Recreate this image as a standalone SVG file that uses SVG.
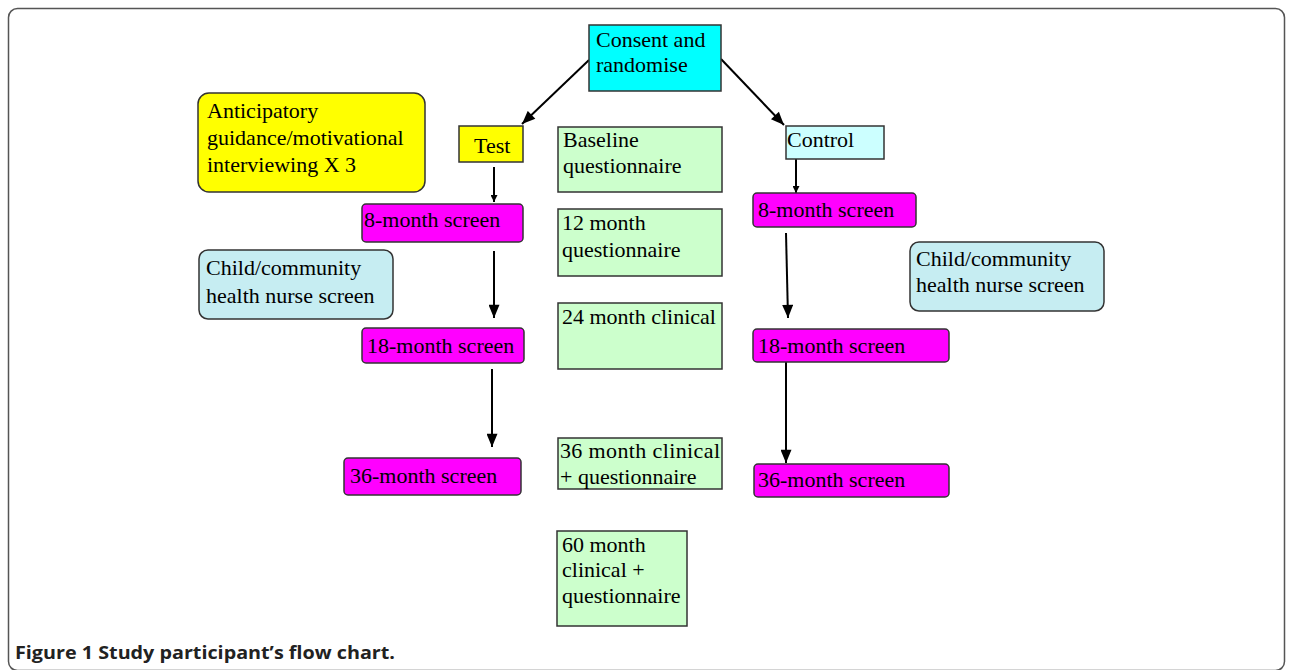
<svg xmlns="http://www.w3.org/2000/svg" width="1290" height="670" viewBox="0 0 1290 670">
<style>
.t{font-family:"Liberation Serif","Times New Roman",serif;font-size:22px;fill:#000}
.b{stroke:#333;stroke-width:1.5}
.cy{fill:#00FFFF}
.ye{fill:#FFFF00}
.lc{fill:#CCFFFF}
.mg{fill:#FF00FF}
.gr{fill:#CCFFCC}
.lb{fill:#C6EDF2}
.c{stroke:#000;stroke-width:2;fill:none}
.cap{font-family:"Open Sans","Liberation Sans",sans-serif;font-weight:bold;font-size:18px;fill:#222}
</style>
<defs>
<marker id="ah2" viewBox="0 0 12 10" refX="12" refY="5" markerWidth="14" markerHeight="11" markerUnits="userSpaceOnUse" orient="auto"><path d="M0,0 L12,5 L0,10 z" fill="#000"/></marker>
<marker id="ah3" viewBox="0 0 10 10" refX="10" refY="5" markerWidth="8" markerHeight="7" markerUnits="userSpaceOnUse" orient="auto"><path d="M0,0 L10,5 L0,10 z" fill="#000"/></marker>
</defs>
<rect width="1290" height="670" fill="#fff"/>
<rect x="8.5" y="8.5" width="1276" height="662" rx="9" fill="none" stroke="#555" stroke-width="1.5"/>
<g id="connectors">
<line class="c" x1="589" y1="60" x2="522" y2="124" marker-end="url(#ah2)"/>
<line class="c" x1="721" y1="59" x2="784" y2="125" marker-end="url(#ah2)"/>
<line class="c" x1="494" y1="167" x2="494" y2="202" marker-end="url(#ah3)"/>
<line class="c" x1="494" y1="251" x2="494" y2="318" marker-end="url(#ah2)"/>
<line class="c" x1="492" y1="369" x2="492" y2="447" marker-end="url(#ah2)"/>
<line class="c" x1="796" y1="159" x2="796" y2="193" marker-end="url(#ah3)"/>
<line class="c" x1="786" y1="233" x2="788" y2="318" marker-end="url(#ah2)"/>
<line class="c" x1="786" y1="362" x2="786" y2="463" marker-end="url(#ah2)"/>
</g>
<g id="consent"><rect class="b cy" x="589" y="25" width="132" height="66"/><text class="t" x="596" y="47">Consent and</text><text class="t" x="596" y="72">randomise</text></g>
<g id="anticipatory"><rect class="b ye" x="198" y="93" width="227" height="99" rx="11"/><text class="t" x="207" y="118">Anticipatory</text><text class="t" x="207" y="145">guidance/motivational</text><text class="t" x="207" y="172">interviewing X 3</text></g>
<g id="test"><rect class="b ye" x="459" y="126" width="64" height="36"/><text class="t" x="474" y="153">Test</text></g>
<g id="control"><rect class="b lc" x="786" y="126" width="98" height="33"/><text class="t" x="787" y="147">Control</text></g>
<g id="test8"><rect class="b mg" x="362" y="204" width="161" height="38" rx="4"/><text class="t" x="364" y="227">8-month screen</text></g>
<g id="test18"><rect class="b mg" x="362" y="328" width="162" height="35" rx="4"/><text class="t" x="367" y="353">18-month screen</text></g>
<g id="test36"><rect class="b mg" x="344" y="458" width="177" height="37" rx="4"/><text class="t" x="350" y="483">36-month screen</text></g>
<g id="nurseL"><rect class="b lb" x="199" y="250" width="194" height="69" rx="9"/><text class="t" x="206" y="275">Child/community</text><text class="t" x="206" y="303">health nurse screen</text></g>
<g id="ctrl8"><rect class="b mg" x="753" y="193" width="163" height="34" rx="4"/><text class="t" x="758" y="217">8-month screen</text></g>
<g id="ctrl18"><rect class="b mg" x="753" y="329" width="196" height="33" rx="4"/><text class="t" x="758" y="353">18-month screen</text></g>
<g id="ctrl36"><rect class="b mg" x="754" y="464" width="195" height="33" rx="4"/><text class="t" x="758" y="487">36-month screen</text></g>
<g id="nurseR"><rect class="b lb" x="910" y="242" width="194" height="69" rx="9"/><text class="t" x="916" y="266">Child/community</text><text class="t" x="916" y="292">health nurse screen</text></g>
<g id="baseline"><rect class="b gr" x="558" y="127" width="164" height="65"/><text class="t" x="563" y="147">Baseline</text><text class="t" x="563" y="173">questionnaire</text></g>
<g id="m12"><rect class="b gr" x="558" y="209" width="164" height="67"/><text class="t" x="562" y="230">12 month</text><text class="t" x="562" y="257">questionnaire</text></g>
<g id="m24"><rect class="b gr" x="558" y="303" width="164" height="66"/><text class="t" x="562" y="324">24 month clinical</text></g>
<g id="m36"><rect class="b gr" x="558" y="438" width="164" height="51"/><text class="t" x="560" y="458" textLength="160" lengthAdjust="spacing">36 month clinical</text><text class="t" x="560" y="484">+ questionnaire</text></g>
<g id="m60"><rect class="b gr" x="557" y="531" width="130" height="95"/><text class="t" x="562" y="552">60 month</text><text class="t" x="562" y="577">clinical +</text><text class="t" x="562" y="603">questionnaire</text></g>
<text class="cap" x="15" y="659" textLength="380" lengthAdjust="spacingAndGlyphs">Figure 1 Study participant’s flow chart.</text>
</svg>
